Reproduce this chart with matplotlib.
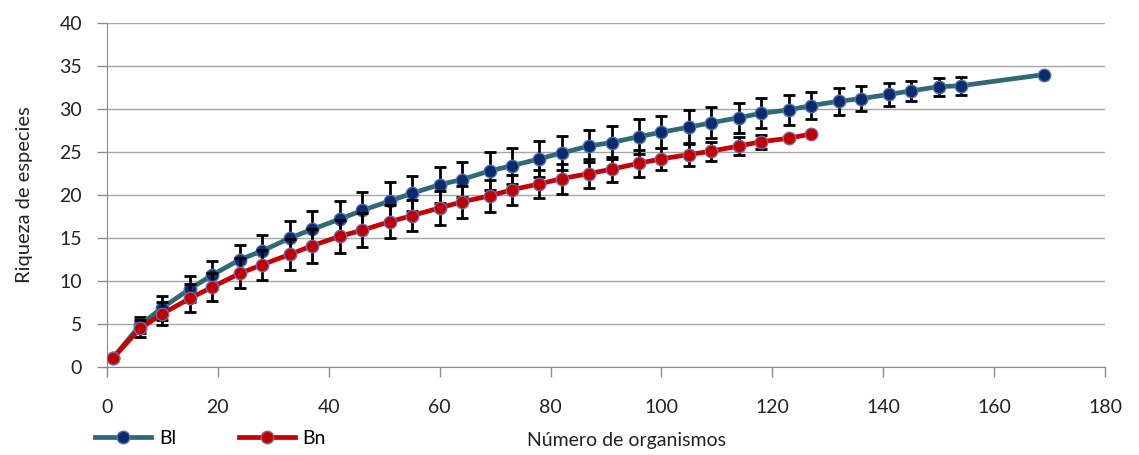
import numpy as np
import matplotlib.pyplot as plt

plt.rcParams['font.family'] = ['Lato', 'DejaVu Sans']

# 样本数 (个体数)
n_bl = [1, 6, 10, 15, 19, 24, 28, 33, 37, 42, 46, 51, 55, 60, 64, 69, 73, 78,
        82, 87, 91, 96, 100, 105, 109, 114, 118, 123, 127, 132, 136, 141, 145,
        150, 154, 169]
n_bn = n_bl[:29]

# 物种丰富度均值
s_bl = [1.0, 4.9, 6.9, 9.1, 10.7, 12.5, 13.5, 15.0, 16.0, 17.2, 18.2, 19.3,
        20.2, 21.2, 21.8, 22.8, 23.4, 24.2, 24.9, 25.7, 26.1, 26.8, 27.3, 27.9,
        28.4, 29.0, 29.5, 29.9, 30.4, 30.9, 31.2, 31.7, 32.1, 32.6, 32.7, 34.0]
s_bn = [1.0, 4.5, 6.2, 8.0, 9.3, 10.9, 11.9, 13.1, 14.1, 15.2, 15.9, 16.9,
        17.6, 18.5, 19.2, 19.9, 20.6, 21.3, 21.9, 22.5, 23.0, 23.7, 24.2, 24.7,
        25.1, 25.7, 26.2, 26.6, 27.1]

# 标准差
sd_bl = [0, 0.9, 1.4, 1.5, 1.6, 1.7, 1.9, 2.0, 2.1, 2.1, 2.1, 2.2, 2.05, 2.1,
         2.05, 2.25, 2.1, 2.1, 2.0, 1.9, 1.95, 2.0, 1.85, 1.95, 1.8, 1.75, 1.75,
         1.75, 1.6, 1.55, 1.45, 1.35, 1.15, 1.05, 1.05, 0]
sd_bn = [0, 1.0, 1.35, 1.6, 1.65, 1.75, 1.75, 1.8, 2.0, 1.95, 1.95, 1.95, 1.8,
         2.0, 1.85, 1.85, 1.75, 1.65, 1.75, 1.65, 1.45, 1.55, 1.3, 1.35, 1.1,
         1.0, 0.8, 0.0, 0.0]

fig = plt.figure(figsize=(11.39, 4.55), dpi=100)
ax = fig.add_axes([107 / 1139, 1 - 367 / 455, 998 / 1139, 344 / 455])

eb = dict(fmt='none', ecolor='black', elinewidth=2, capsize=4.5, capthick=2)

# Bl 曲线
ax.errorbar(n_bl, s_bl, yerr=sd_bl, zorder=3, **eb)
l1, = ax.plot(n_bl, s_bl, color='#2D6A74', lw=3.4, marker='o', ms=9,
              mfc='#0C2B6C', mec='#4A70B0', mew=1, zorder=4, label='Bl')

# Bn 曲线
ax.errorbar(n_bn, s_bn, yerr=sd_bn, zorder=5, **eb)
l2, = ax.plot(n_bn, s_bn, color='#C80000', lw=3.4, marker='o', ms=9,
              mfc='#C00000', mec='#8064A2', mew=1, zorder=6, label='Bn')

ax.set_xlim(0, 180)
ax.set_ylim(0, 40)
ax.set_xticks(np.arange(0, 181, 20))
ax.set_yticks(np.arange(0, 41, 5))
ax.yaxis.grid(True, color='#A6A6A6', lw=1)
ax.set_axisbelow(True)

for s in ['top', 'right']:
    ax.spines[s].set_visible(False)
for s in ['left', 'bottom']:
    ax.spines[s].set_color('#8C8C8C')
ax.tick_params(axis='both', colors='#8C8C8C', labelcolor='#222222',
               labelsize=14, length=7, width=1)
ax.tick_params(axis='y', pad=11)
ax.tick_params(axis='x', pad=16)

ax.set_xlabel('Número de organismos', fontsize=14, color='#222222')
ax.xaxis.set_label_coords(0.521, -0.19)
ax.set_ylabel('Riqueza de especies', fontsize=14.5, color='#222222')
ax.yaxis.set_label_coords(-0.074, 0.5)

fig.legend(handles=[l1, l2], loc='center left',
           bbox_to_anchor=(95 / 1139, 1 - 438 / 455), ncol=2, frameon=False,
           fontsize=14, handlelength=2.9, handletextpad=0.4,
           columnspacing=3.2, borderpad=0, borderaxespad=0)

plt.savefig('out.png', dpi=100)
